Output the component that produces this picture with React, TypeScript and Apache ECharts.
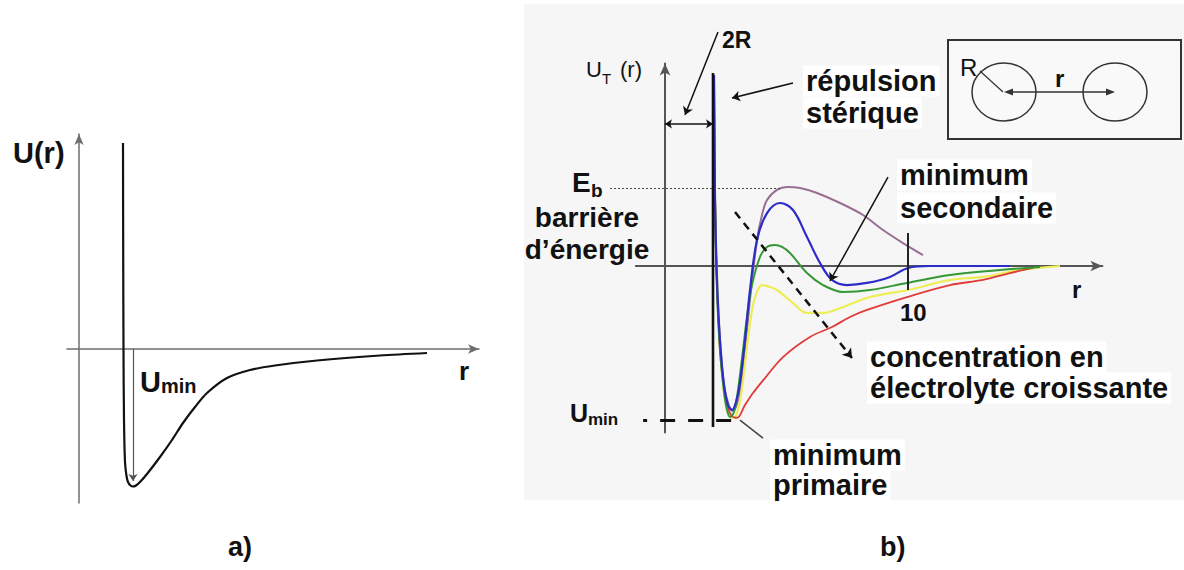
import React, { useEffect, useRef } from "react";
import * as echarts from "echarts";

type P = [number, number];

// ---------------- panel a) : U(r) ----------------
const curveA: P[] = [
  [1.1, 10.3], [1.105, 4.95], [1.1125, -0.05], [1.125, -3.55], [1.15, -5.65],
  [1.1875, -6.35], [1.225, -6.65], [1.2875, -6.825], [1.35, -6.875], [1.425, -6.825],
  [1.525, -6.65], [1.7, -6.25], [2.025, -5.4], [2.325, -4.55], [2.6, -3.7],
  [2.9, -2.9], [3.2, -2.2], [3.7, -1.45], [4.275, -1.05], [4.9, -0.825],
  [5.95, -0.575], [7.525, -0.325], [8.7, -0.2],
];
const uminArrowA: P[] = [[1.35, 0], [1.35, -6.6]];

// ---------------- panel b) : U_T(r), r in units of R ----------------
const purpleCurve: P[] = [
  [2.016, 12.73], [2.058, 4.4], [2.14, -0.93], [2.263, -4.93], [2.428, -7.93],
  [2.634, -9.33], [2.798, -9.67], [2.963, -9.2], [3.128, -7.93], [3.333, -4.93],
  [3.539, -1.6], [3.786, 1.73], [3.992, 3.4], [4.198, 4.4], [4.609, 5.07],
  [5.021, 5.27], [5.556, 5.2], [6.255, 4.87], [7.202, 4.2], [8.148, 3.4],
  [8.971, 2.4], [9.794, 1.53], [10.617, 0.73],
];
const blueCurve: P[] = [
  [2.016, 12.73], [2.058, 4.4], [2.14, -0.93], [2.263, -4.93], [2.428, -7.93],
  [2.593, -9.27], [2.757, -9.6], [2.922, -9.07], [3.086, -7.8], [3.292, -4.93],
  [3.498, -1.6], [3.786, 1.73], [4.198, 3.53], [4.733, 4.2], [5.267, 3.73],
  [5.844, 1.93], [6.379, 0.2], [6.872, -0.93], [7.49, -1.27], [8.313, -1.13],
  [9.259, -0.73], [10.0, -0.13], [10.905, 0], [14.198, 0],
];
const greenCurve: P[] = [
  [2.016, 12.73], [2.058, 4.4], [2.14, -1.6], [2.263, -5.6], [2.428, -8.4],
  [2.551, -9.6], [2.675, -10.07], [2.84, -9.73], [3.004, -8.27], [3.21, -5.6],
  [3.374, -3.4], [3.58, -1.27], [3.909, 0.6], [4.198, 1.27], [4.527, 1.4],
  [4.815, 1.27], [5.144, 0.87], [5.844, -0.47], [6.502, -1.27], [7.325, -1.73],
  [8.436, -1.6], [9.959, -1.13], [11.728, -0.6], [13.786, -0.27], [15.432, -0.07],
];
const yellowCurve: P[] = [
  [2.016, 12.73], [2.058, 4.4], [2.181, -2.27], [2.305, -6.27], [2.469, -8.93],
  [2.634, -9.93], [2.798, -10.13], [2.963, -9.8], [3.128, -8.6], [3.333, -5.93],
  [3.58, -2.93], [3.786, -1.73], [3.992, -1.27], [4.321, -1.4], [4.609, -1.6],
  [5.267, -2.47], [5.844, -3.13], [6.502, -3.13], [7.325, -2.73], [8.436, -2.07],
  [10.0, -1.6], [11.728, -0.93], [13.086, -0.73], [14.609, -0.27], [16.255, 0],
];
const redCurve: P[] = [
  [2.016, 12.73], [2.099, 1.07], [2.263, -5.6], [2.51, -8.93], [2.716, -9.93],
  [2.963, -10.13], [3.292, -9.27], [3.621, -8.47], [4.115, -7.47], [4.856, -6.07],
  [5.967, -4.73], [6.872, -4.07], [7.613, -3.4], [8.313, -2.93], [9.959, -2.07],
  [11.728, -1.27], [13.086, -0.93], [14.198, -0.47], [15.144, -0.13],
];
const stericWall: P[] = [[1.975, 12.87], [1.975, -10.73]];

// annotation anchors (data space of panel b)
const ebLine: P[] = [[-2.26, 5.2], [4.73, 5.2]];
const uminLine: P[] = [[-0.9, -10.27], [2.9, -10.27]];
const twoRSpan: P[] = [[0, 9.47], [1.975, 9.47]];
const twoRPointer: P[] = [[2.181, 15.6], [0.823, 10.07]];
const repulsionPointer: P[] = [[5.267, 12.2], [2.757, 11.2]];
const secondaryPointer: P[] = [[9.177, 5.93], [6.79, -1.0]];
const primaryPointer: P[] = [[3.086, -10.27], [4.033, -11.47]];
const concentrationArrow: P[] = [[2.881, 3.6], [7.695, -6.13]];
const rTick: P[] = [[10, 2.2], [10, -1.6]];

const FONT = "'Liberation Sans', Arial, Helvetica, sans-serif";

function txt(text: string, x: number, y: number, size: number, weight = "bold", align = "left", bg?: string) {
  const style: any = {
    text, x: 0, y: 0,
    fontFamily: FONT, fontSize: size, fontWeight: weight,
    fill: "#111",
    align, verticalAlign: "middle",
    textAlign: align, textVerticalAlign: "middle",
  };
  if (bg) { style.backgroundColor = bg; style.padding = [1, 3]; }
  return { type: "text", x, y, z: 100, silent: true, style };
}

const axisStyle = (color: string, width: number, size: number[]) => ({
  show: true,
  onZero: true,
  symbol: ["none", "arrow"],
  symbolSize: size,
  lineStyle: { color, width },
});

const hidden = {
  axisTick: { show: false },
  axisLabel: { show: false },
  splitLine: { show: false },
};

function lineSeries(data: P[], color: string, width: number, z = 2) {
  return {
    type: "line", xAxisIndex: 1, yAxisIndex: 1, data,
    showSymbol: false, smooth: 0.35, clip: false, z,
    lineStyle: { color, width },
  };
}

function annot(coords: P[], opts: any) {
  return {
    type: "lines", coordinateSystem: "cartesian2d",
    xAxisIndex: opts.grid ?? 1, yAxisIndex: opts.grid ?? 1,
    clip: false, z: 5, silent: true,
    symbol: opts.symbol ?? ["none", "arrow"],
    symbolSize: opts.symbolSize ?? 8,
    lineStyle: {
      color: opts.color ?? "#111", width: opts.width ?? 1.5,
      type: opts.type ?? "solid", dashOffset: opts.dashOffset ?? 0,
      opacity: 1, curveness: 0,
    },
    data: [{ coords }],
  };
}

export default function App() {
  const ref = useRef<HTMLDivElement>(null);
  useEffect(() => {
    document.body.style.margin = "0";
    const chart = echarts.init(ref.current!, null, { renderer: "svg" });
    const option: any = {
      animation: false,
      backgroundColor: "#ffffff",
      grid: [
        { left: 67, top: 134, width: 412, height: 369, containLabel: false, outerBoundsMode: "none" },
        { left: 635.84, top: 63.5, width: 466.56, height: 369, containLabel: false, outerBoundsMode: "none" },
      ],
      xAxis: [
        { type: "value", gridIndex: 0, min: -0.3, max: 10, axisLine: axisStyle("#6e6e6e", 1.5, [7, 11]), ...hidden },
        { type: "value", gridIndex: 1, min: -1.2, max: 18, axisLine: axisStyle("#555", 2, [8, 12]), ...hidden },
      ],
      yAxis: [
        { type: "value", gridIndex: 0, min: -7.7, max: 10.75, axisLine: axisStyle("#6e6e6e", 1.5, [7, 11]), ...hidden },
        { type: "value", gridIndex: 1, min: -11.1, max: 13.5, axisLine: axisStyle("#555", 2, [8, 12]), ...hidden },
      ],
      series: [
        {
          type: "line", xAxisIndex: 0, yAxisIndex: 0, data: curveA,
          showSymbol: false, smooth: 0.3, clip: false,
          lineStyle: { color: "#111", width: 2.2 },
        },
        annot(uminArrowA, { grid: 0, color: "#555", width: 1.2, symbolSize: 7 }),

        lineSeries(purpleCurve, "#9a6e94", 2, 2),
        lineSeries(yellowCurve, "#eded55", 2.2, 3),
        lineSeries(redCurve, "#e23a3a", 1.8, 3),
        lineSeries(greenCurve, "#349834", 2, 4),
        lineSeries(blueCurve, "#2c2cc8", 2.2, 4),
        {
          type: "line", xAxisIndex: 1, yAxisIndex: 1, data: stericWall,
          showSymbol: false, clip: false, z: 6,
          lineStyle: { color: "#111", width: 2.6 },
        },

        annot(ebLine, { color: "#444", width: 1.2, type: [2, 2], symbol: ["none", "none"] }),
        annot(uminLine, { color: "#111", width: 3, type: [15, 13], dashOffset: 11, symbol: ["none", "none"] }),
        annot(twoRSpan, { symbol: ["arrow", "arrow"], symbolSize: 7, width: 1.5 }),
        annot(twoRPointer, { symbolSize: 8, width: 1.5 }),
        annot(repulsionPointer, { symbolSize: 8, width: 1.5 }),
        annot(secondaryPointer, { symbolSize: 8, width: 1.5 }),
        annot(primaryPointer, { symbol: ["none", "none"], color: "#444", width: 1.5 }),
        annot(concentrationArrow, { type: [8, 6], width: 2.5, symbolSize: 9 }),
        annot(rTick, { symbol: ["none", "none"], color: "#222", width: 2 }),
      ],
      graphic: [
        { type: "rect", z: -10, silent: true, shape: { x: 524, y: 4, width: 660, height: 496 }, style: { fill: "#f6f6f6" } },
        // inset
        { type: "rect", z: 50, silent: true, shape: { x: 948, y: 40, width: 233, height: 99 }, style: { fill: "#f9f9f9", stroke: "#333", lineWidth: 2 } },
        { type: "ellipse", z: 51, silent: true, shape: { cx: 1004, cy: 92, rx: 32, ry: 29 }, style: { fill: "none", stroke: "#333", lineWidth: 1.5 } },
        { type: "ellipse", z: 51, silent: true, shape: { cx: 1115, cy: 92, rx: 32, ry: 29 }, style: { fill: "none", stroke: "#333", lineWidth: 1.5 } },
        { type: "line", z: 51, silent: true, shape: { x1: 980, y1: 71, x2: 1003, y2: 92 }, style: { stroke: "#333", lineWidth: 1.2 } },
        { type: "line", z: 51, silent: true, shape: { x1: 1008, y1: 92, x2: 1111, y2: 92 }, style: { stroke: "#333", lineWidth: 1.5 } },
        { type: "polygon", z: 51, silent: true, shape: { points: [[1004, 92], [1013, 88.5], [1013, 95.5]] }, style: { fill: "#333" } },
        { type: "polygon", z: 51, silent: true, shape: { points: [[1115, 92], [1106, 88.5], [1106, 95.5]] }, style: { fill: "#333" } },
        txt("R", 960, 67, 24, "normal"),
        txt("r", 1055, 78, 24, "bold"),

        // panel a texts
        txt("U(r)", 13, 153, 29),
        txt("U", 140, 382, 29),
        txt("min", 161, 386, 20),
        txt("r", 459, 371, 26),
        txt("a)", 228, 547, 27),

        // panel b texts
        txt("U", 586, 69, 22, "normal"),
        txt("T", 602, 78, 15, "normal"),
        txt("(r)", 620, 69, 22, "normal"),
        txt("2R", 722, 40, 23),
        txt("répulsion", 803, 81, 29, "bold", "left", "#ffffff"),
        txt("stérique", 803, 113, 29, "bold", "left", "#ffffff"),
        txt("E", 572, 182, 28),
        txt("b", 591, 190, 19),
        txt("barrière", 587, 217, 28, "bold", "center"),
        txt("d’énergie", 587, 249, 28, "bold", "center"),
        txt("minimum", 897, 175, 29, "bold", "left", "#ffffff"),
        txt("secondaire", 897, 208, 29, "bold", "left", "#ffffff"),
        txt("r", 1072, 289, 24),
        txt("10", 900, 312, 24),
        txt("concentration en", 867, 357, 29, "bold", "left", "#ffffff"),
        txt("électrolyte croissante", 867, 388, 29, "bold", "left", "#ffffff"),
        txt("U", 570, 413, 25),
        txt("min", 588, 419, 17),
        txt("minimum", 770, 455, 29, "bold", "left", "#ffffff"),
        txt("primaire", 770, 485, 29, "bold", "left", "#ffffff"),
        txt("b)", 880, 547, 27),
      ],
    };
    chart.setOption(option);
    return () => chart.dispose();
  }, []);
  return (
    <div
      ref={ref}
      style={{ position: "absolute", left: 0, top: 0, width: 1184, height: 570, background: "#fff" }}
    />
  );
}
